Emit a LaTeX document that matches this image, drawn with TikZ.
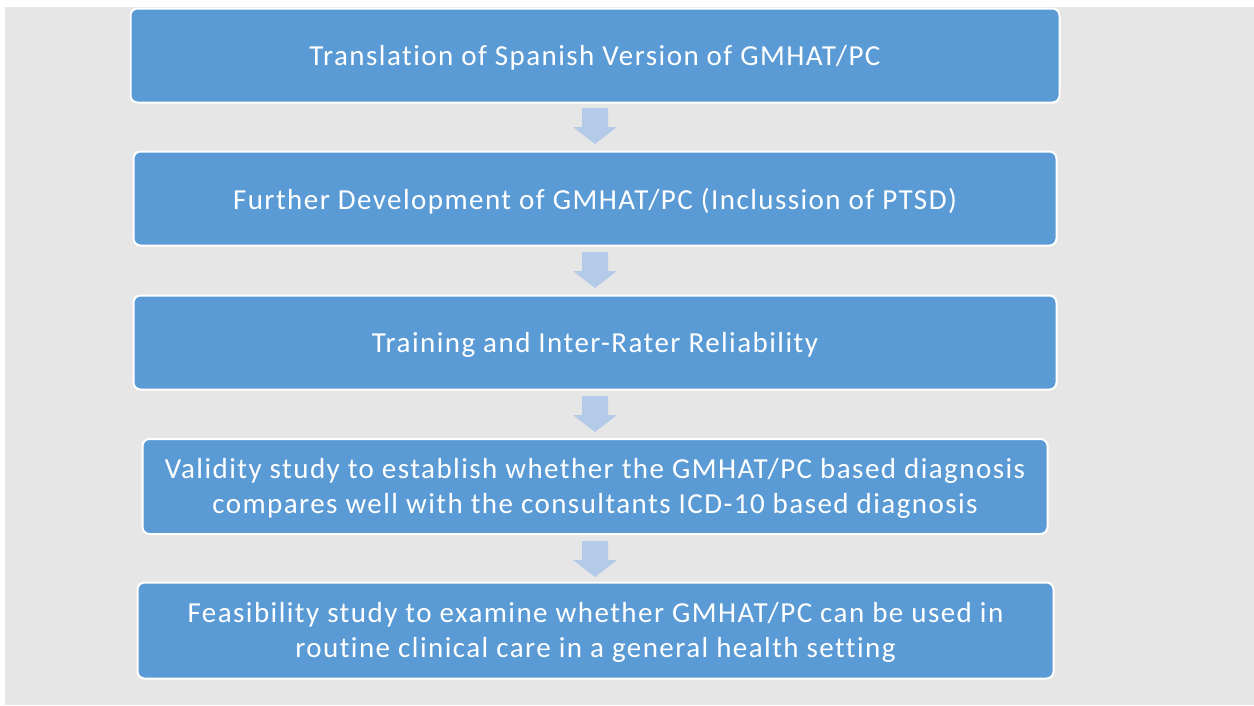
\documentclass[tikz,border=0pt]{standalone}
\usepackage{fontspec}
\setmainfont{Carlito}[Ligatures={NoCommon},LetterSpace=5]
\definecolor{bg}{HTML}{E6E6E6}
\definecolor{boxblue}{HTML}{5B9BD5}
\definecolor{arrowblue}{HTML}{B4CAE9}
\begin{document}
\begin{tikzpicture}[x=1pt,y=-1pt,
  stepbox/.style={draw=white,line width=2pt,fill=boxblue,rounded corners=7pt,inner sep=0pt},
  boxtext/.style={inner sep=0pt,text=white,align=center,font=\fontsize{29}{35}\selectfont},
  downarrow/.style={fill=arrowblue,draw=none}]
\useasboundingbox (0,0) rectangle (1254,705);
\fill[white] (0,0) rectangle (1254,705);
\fill[bg] (5,7) rectangle (1254,705);
\node[stepbox,minimum width=929pt,minimum height=94pt] (b1) at (595,55.5) {};
\node[stepbox,minimum width=923pt,minimum height=94pt] (b2) at (595,198.5) {};
\node[stepbox,minimum width=923pt,minimum height=94pt] (b3) at (595,342.5) {};
\node[stepbox,minimum width=905pt,minimum height=95pt] (b4) at (595,486.5) {};
\node[stepbox,minimum width=916pt,minimum height=96pt] (b5) at (595.5,630.5) {};
\node[boxtext] (t1) at ([yshift=-2.5pt]b1.center) {Translation of Spanish Version of GMHAT/PC};
\node[boxtext] (t2) at ([yshift=-2.5pt]b2.center) {Further Development of GMHAT/PC (Inclussion of PTSD)};
\node[boxtext] (t3) at ([yshift=-2.5pt]b3.center) {Training and Inter-Rater Reliability};
\node[boxtext] (t4) at ([yshift=-2pt]b4.center) {Validity study to establish whether the GMHAT/PC based diagnosis\\compares well with the consultants ICD-10 based diagnosis};
\node[boxtext] (t5) at ([yshift=-2pt]b5.center) {Feasibility study to examine whether GMHAT/PC can be used in\\routine clinical care in a general health setting};
\foreach \y in {108,252,396,541} {
  \fill[downarrow] (582,\y) -- (608,\y) -- (608,\y+19) -- (617,\y+19) -- (595,\y+36) -- (573,\y+19) -- (582,\y+19) -- cycle;
}
\end{tikzpicture}
\end{document}
